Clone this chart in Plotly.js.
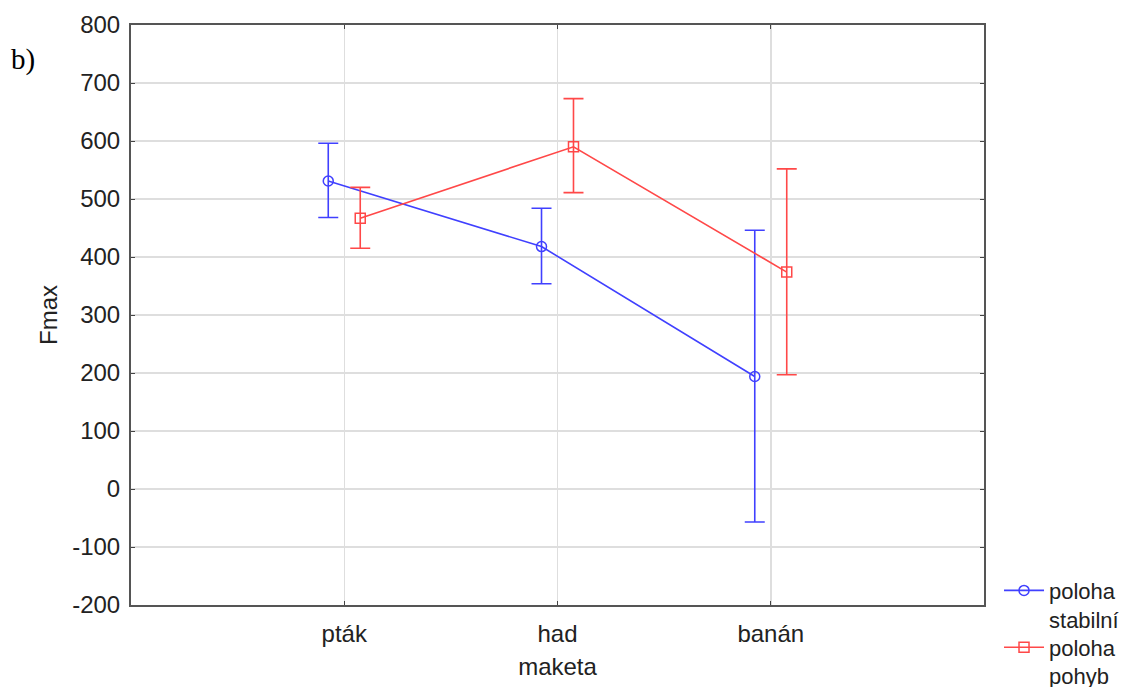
<!DOCTYPE html>
<html>
<head>
<meta charset="utf-8">
<script src="https://cdn.plot.ly/plotly-3.0.1.min.js"></script>
<style>
  html, body { margin: 0; padding: 0; background: #fff; }
  #chart { width: 1131px; height: 687px; }
</style>
</head>
<body>
<div id="chart"></div>
<script>
// Categories (maketa) and the two groups of Fmax means with their interval bounds
const categories = ['pták', 'had', 'banán'];

const stabilniName = 'poloha<br>stabilní';
const stabilniMean = [531, 418, 194];
const stabilniLow  = [468, 354, -57];
const stabilniHigh = [596, 484, 446];

const pohybName = 'poloha<br>pohyb';
const pohybMean = [467, 590, 374];
const pohybLow  = [415, 511, 197];
const pohybHigh = [520, 673, 552];

const yTicks = [-200, -100, 0, 100, 200, 300, 400, 500, 600, 700, 800];

// Small horizontal dodge so the two groups don't overlap
const dodge = 0.075;
const idx = categories.map((_, i) => i);

function group(name, mean, lo, hi, color, symbol, shift, legendId) {
  return {
    type: 'scatter',
    mode: 'lines+markers',
    name: name,
    legend: legendId,
    x: idx.map(i => i + shift),
    y: mean,
    line: { color: color, width: 1.6 },
    marker: { symbol: symbol, size: 10, color: color, line: { color: color, width: 1.5 } },
    error_y: {
      type: 'data',
      symmetric: false,
      array: mean.map((m, i) => hi[i] - m),
      arrayminus: mean.map((m, i) => m - lo[i]),
      color: color,
      thickness: 1.6,
      width: 10
    }
  };
}

const traces = [
  group(stabilniName, stabilniMean, stabilniLow, stabilniHigh, 'rgb(64,64,255)', 'circle-open', -dodge, 'legend'),
  group(pohybName, pohybMean, pohybLow, pohybHigh, 'rgb(255,72,72)', 'square-open', dodge, 'legend2')
];

const tickFont = { family: 'Liberation Sans, Arial, sans-serif', size: 24, color: '#222' };
const legendFont = { family: 'Liberation Sans, Arial, sans-serif', size: 22, color: '#222' };

// Each group gets its own legend box, stacked at the lower right outside the frame
function legendBox(y) {
  return {
    x: 1.0176, xanchor: 'left',
    y: y, yanchor: 'top',
    font: legendFont,
    valign: 'top',
    itemwidth: 40,
    bgcolor: 'rgba(0,0,0,0)'
  };
}

const layout = {
  width: 1131,
  height: 687,
  margin: { l: 131, r: 147, t: 25, b: 82, autoexpand: false },
  paper_bgcolor: '#fff',
  plot_bgcolor: '#fff',
  font: tickFont,
  showlegend: true,
  legend: legendBox(0.061),
  legend2: legendBox(-0.037),
  xaxis: {
    range: [-1, 3],
    tickvals: idx,
    ticktext: categories,
    showgrid: true,
    gridcolor: '#dedede',
    gridwidth: 1.5,
    zeroline: false,
    showline: true,
    linecolor: '#555',
    linewidth: 2,
    mirror: 'ticks',
    ticks: 'inside',
    ticklen: 4,
    tickcolor: '#444',
    tickfont: tickFont,
    ticklabelstandoff: 6,
    title: { text: 'maketa', font: tickFont, standoff: 12 }
  },
  yaxis: {
    range: [-200, 800],
    tickvals: yTicks,
    ticktext: yTicks.map(String),
    showgrid: true,
    gridcolor: '#dedede',
    gridwidth: 1.5,
    zeroline: false,
    showline: true,
    linecolor: '#555',
    linewidth: 2,
    mirror: 'ticks',
    ticks: 'inside',
    ticklen: 4,
    tickcolor: '#444',
    tickfont: tickFont,
    ticklabelstandoff: 4,
    title: { text: 'Fmax', font: tickFont, standoff: 8 }
  },
  annotations: [{
    xref: 'paper', yref: 'paper',
    x: -0.127, y: 0.94,
    xanchor: 'center', yanchor: 'middle',
    text: 'b)',
    showarrow: false,
    font: { family: 'Liberation Serif, Times New Roman, serif', size: 29, color: '#000' }
  }]
};

Plotly.newPlot('chart', traces, layout, { displayModeBar: false, staticPlot: true });
</script>
</body>
</html>
